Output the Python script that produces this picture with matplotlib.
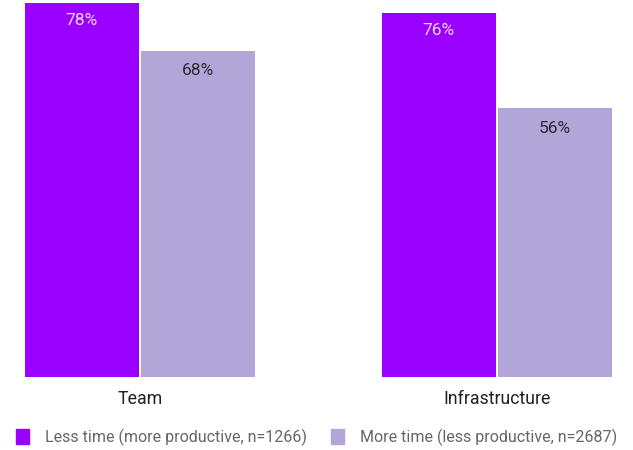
import matplotlib.pyplot as plt
from matplotlib.patches import Patch
import numpy as np

plt.rcParams['font.family'] = ['Roboto', 'DejaVu Sans']

# 数据
groups = ['Team', 'Infrastructure']
less_time = [78, 76]
more_time = [68, 56]
series_names = ['Less time (more productive, n=1266)', 'More time (less productive, n=2687)']
c_less = '#9A00FF'
c_more = '#B2A6D8'

fig = plt.figure(figsize=(6.33, 4.5), dpi=100)
ax = fig.add_axes([0, 73 / 450, 1, 374 / 450])

x = np.arange(len(groups))
w = 0.317
off = w / 2 + 0.0042
b1 = ax.bar(x - off, less_time, w, color=c_less)
b2 = ax.bar(x + off, more_time, w, color=c_more)

# 数值标签放在柱子内部顶端
for rect, v in zip(b1, less_time):
    ax.annotate(f'{v}%', (rect.get_x() + rect.get_width() / 2, v), xytext=(0, -18),
                textcoords='offset pixels', ha='center', va='center',
                fontsize=12.5, color='#F3D6F5')
for rect, v in zip(b2, more_time):
    ax.annotate(f'{v}%', (rect.get_x() + rect.get_width() / 2, v), xytext=(0, -20),
                textcoords='offset pixels', ha='center', va='center',
                fontsize=12.5, color='#2B2B33')

ax.set_xlim(-140 / 357, (633 - 140) / 357)
ax.set_ylim(0, 78)
ax.set_xticks(x)
ax.set_xticklabels(groups, fontsize=12.8, color='#222222')
ax.tick_params(axis='x', length=0, pad=9)
ax.set_yticks([])
for s in ax.spines.values():
    s.set_visible(False)

handles = [Patch(color=c_less), Patch(color=c_more)]
fig.legend(handles, series_names, loc='center', bbox_to_anchor=(0.5, 1 - 437 / 450),
           ncol=2, frameon=False, fontsize=11.5, labelcolor='#666666',
           handlelength=0.8, handleheight=1.1, handletextpad=1.0, columnspacing=1.5)

plt.savefig('out.png', dpi=100)
